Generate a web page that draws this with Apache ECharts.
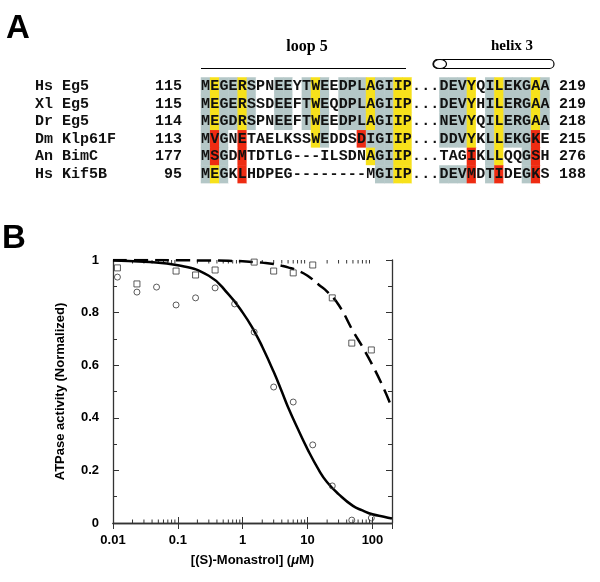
<!DOCTYPE html>
<html>
<head>
  <meta charset="utf-8">
  <title>Eg5 loop 5 alignment and monastrol inhibition</title>
  <script src="https://cdn.jsdelivr.net/npm/echarts@6/dist/echarts.min.js"></script>
  <style>
    html, body { margin: 0; background: #fff; }
    #main { width: 600px; height: 582px; }
  </style>
</head>
<body>
  <div id="main"></div>

  <script>
    // Panel A - sequence alignment
    const names = ['Hs Eg5', 'Xl Eg5', 'Dr Eg5', 'Dm Klp61F', 'An BimC', 'Hs Kif5B'];
    const startNums = ['115', '115', '114', '113', '177', '95'];
    const endNums = ['219', '219', '218', '215', '276', '188'];
    const seqs = [
      'MEGERSPNEEYTWEEDPLAGIIP...DEVYQILEKGAA',
      'MEGERSSDEEFTWEQDPLAGIIP...DEVYHILERGAA',
      'MEGDRSPNEEFTWEEDPLAGIIP...NEVYQILERGAA',
      'MVGNETAELKSSWEDDSDIGIIP...DDVYKLLEKGKE',
      'MSGDMTDTLG---ILSDNAGIIP...TAGIKLLQQGSH',
      'MEGKLHDPEG--------MGIIP...DEVMDTIDEGKS'
    ];
    // shading per residue: 0 none, 1 grey, 2 yellow, 3 red
    const shading = [
      '12112100110121011121122000111201211121',
      '12112100110121011121122000111201211121',
      '12112100110121011121122000111201211121',
      '13103000000021000311122000111201211130',
      '13103000000000000021122000000301200130',
      '12103000000000000001122000111301300130'
    ];

    // Panel B - ATPase activity vs (S)-monastrol
    const concCircles = [0.0117, 0.0234, 0.0469, 0.0938, 0.1875, 0.375, 0.75, 1.5, 3, 6, 12, 24, 48, 96];
    const actCircles = [0.935, 0.878, 0.897, 0.829, 0.856, 0.894, 0.833, 0.726, 0.517, 0.46, 0.297, 0.141, 0.011, 0.019];
    const concSquares = [0.0117, 0.0234, 0.0938, 0.1875, 0.375, 1.5, 3, 6, 12, 24, 48, 96];
    const actSquares = [0.970, 0.909, 0.958, 0.943, 0.962, 0.992, 0.958, 0.951, 0.981, 0.856, 0.684, 0.658];
    const fitConc = [0.01, 0.03, 0.1, 0.3, 0.6, 1, 1.5, 2, 3, 4, 5, 7, 10, 15, 20, 30, 50, 70, 100, 150, 200];
    const fitSolid = [0.998, 0.993, 0.98, 0.94, 0.87, 0.8, 0.73, 0.67, 0.575, 0.5, 0.44, 0.36, 0.28, 0.2, 0.155, 0.11, 0.065, 0.048, 0.033, 0.024, 0.017];
    const fitDashed = [1.0, 1.0, 0.999, 0.998, 0.997, 0.995, 0.992, 0.99, 0.985, 0.978, 0.972, 0.96, 0.94, 0.905, 0.88, 0.83, 0.73, 0.67, 0.6, 0.51, 0.437];
    const xTickLabels = ['0.01', '0.1', '1', '10', '100'];

    const shadeColors = ['#ffffff', '#b4c7c7', '#f7e11b', '#ee2b12'];

    const cells = [];
    seqs.forEach((s, r) => {
      s.split('').forEach((ch, c) => cells.push([c, r, +shading[r][c]]));
    });

    const logMinor = [];
    for (let e = -2; e <= 2; e++) {
      for (let m = 2; m <= 9; m++) {
        const v = m * Math.pow(10, e);
        if (v < 200) logMinor.push([v, 0]);
      }
    }

    const mono = { fontFamily: 'Liberation Mono', fontWeight: 'bold', fontSize: 15, color: '#111' };
    const sans = 'Liberation Sans';

    const chart = echarts.init(document.getElementById('main'));

    const option = {
      animation: false,
      backgroundColor: '#fff',
      grid: [
        { left: 201, top: 77.5, width: 348.5, height: 105.6 },
        { left: 113, top: 260, width: 279, height: 263 }
      ],
      xAxis: [
        { type: 'category', gridIndex: 0, data: seqs[0].split('').map((_, i) => i), show: false },
        {
          type: 'log', gridIndex: 1, logBase: 10, min: 0.01, max: 200, position: 'bottom',
          axisLine: { lineStyle: { color: '#333', width: 1.3 } },
          axisTick: { inside: true, length: 6, lineStyle: { color: '#333' } },
          axisLabel: {
            margin: 11, color: '#000', fontFamily: sans, fontWeight: 'bold', fontSize: 13,
            formatter: v => {
              const s = String(+v.toPrecision(3));
              return xTickLabels.indexOf(s) >= 0 ? s : '';
            }
          },
          splitLine: { show: false },
          name: '[(S)-Monastrol] ({mu|μ}M)',
          nameLocation: 'middle', nameGap: 31,
          nameTextStyle: {
            fontFamily: sans, fontWeight: 'bold', fontSize: 13, color: '#000',
            rich: { mu: { fontFamily: sans, fontWeight: 'bold', fontStyle: 'italic', fontSize: 13, color: '#000' } }
          }
        },
        {
          type: 'log', gridIndex: 1, logBase: 10, min: 0.01, max: 200, position: 'top',
          axisLine: { lineStyle: { color: '#333', width: 1.3 } },
          axisTick: { inside: true, length: 6, lineStyle: { color: '#333' } },
          axisLabel: { show: false },
          splitLine: { show: false }
        }
      ],
      yAxis: [
        {
          type: 'category', gridIndex: 0, data: names, inverse: true,
          axisLine: { show: false }, axisTick: { show: false },
          axisLabel: Object.assign({ align: 'left', margin: 166, interval: 0 }, mono)
        },
        {
          type: 'category', gridIndex: 0, data: startNums, inverse: true, position: 'left',
          axisLine: { show: false }, axisTick: { show: false },
          axisLabel: Object.assign({ align: 'right', margin: 19, interval: 0 }, mono)
        },
        {
          type: 'category', gridIndex: 0, data: endNums, inverse: true, position: 'right',
          axisLine: { show: false }, axisTick: { show: false },
          axisLabel: Object.assign({ align: 'left', margin: 9.5, interval: 0 }, mono)
        },
        {
          type: 'value', gridIndex: 1, min: 0, max: 1, interval: 0.2, position: 'left',
          axisLine: { show: true, lineStyle: { color: '#333', width: 1.3 } },
          axisTick: { show: true, inside: true, length: 6, lineStyle: { color: '#333' } },
          minorTick: { show: true, splitNumber: 2, length: 4, lineStyle: { color: '#333' } },
          axisLabel: { margin: 14, color: '#000', fontFamily: sans, fontWeight: 'bold', fontSize: 13 },
          splitLine: { show: false },
          name: 'ATPase activity (Normalized)',
          nameLocation: 'middle', nameGap: 46,
          nameTextStyle: { fontFamily: sans, fontWeight: 'bold', fontSize: 13, color: '#000' }
        },
        {
          type: 'value', gridIndex: 1, min: 0, max: 1, interval: 0.2, position: 'right',
          axisLine: { show: true, lineStyle: { color: '#333', width: 1.3 } },
          axisTick: { show: true, inside: true, length: 6, lineStyle: { color: '#333' } },
          minorTick: { show: true, splitNumber: 2, length: 4, lineStyle: { color: '#333' } },
          axisLabel: { show: false },
          splitLine: { show: false }
        }
      ],
      visualMap: {
        type: 'piecewise', show: false, dimension: 2, seriesIndex: 0,
        pieces: shadeColors.map((col, i) => ({ value: i, color: col }))
      },
      series: [
        {
          type: 'heatmap', xAxisIndex: 0, yAxisIndex: 0, data: cells,
          emphasis: { disabled: true },
          itemStyle: { borderWidth: 0 },
          label: Object.assign({
            show: true,
            formatter: p => seqs[p.value[1]][p.value[0]]
          }, mono)
        },
        {
          type: 'line', xAxisIndex: 1, yAxisIndex: 3, smooth: true, symbol: 'none',
          data: fitConc.map((c, i) => [c, fitSolid[i]]),
          lineStyle: { color: '#000', width: 2.5 }, z: 2
        },
        {
          type: 'line', xAxisIndex: 1, yAxisIndex: 3, smooth: true, symbol: 'none',
          data: fitConc.map((c, i) => [c, fitDashed[i]]),
          lineStyle: { color: '#000', width: 2.5, type: [14, 7] }, z: 2
        },
        {
          type: 'scatter', xAxisIndex: 1, yAxisIndex: 3, symbol: 'circle', symbolSize: 6,
          data: concCircles.map((c, i) => [c, actCircles[i]]),
          itemStyle: { color: 'rgba(255,255,255,0)', borderColor: '#333', borderWidth: 1 }, z: 3
        },
        {
          type: 'scatter', xAxisIndex: 1, yAxisIndex: 3, symbol: 'rect', symbolSize: 6,
          data: concSquares.map((c, i) => [c, actSquares[i]]),
          itemStyle: { color: 'rgba(255,255,255,0)', borderColor: '#333', borderWidth: 1 }, z: 3
        },
        {
          type: 'custom', xAxisIndex: 1, yAxisIndex: 3, silent: true, data: logMinor,
          renderItem: (params, api) => {
            const b = api.coord([api.value(0), 0]);
            const t = api.coord([api.value(0), 1]);
            const st = { stroke: '#333', lineWidth: 1 };
            return {
              type: 'group', children: [
                { type: 'line', shape: { x1: b[0], y1: b[1], x2: b[0], y2: b[1] - 3.5 }, style: st },
                { type: 'line', shape: { x1: t[0], y1: t[1], x2: t[0], y2: t[1] + 3.5 }, style: st }
              ]
            };
          }
        }
      ],
      graphic: [
        { type: 'text', left: 6, top: 12, style: { text: 'A', font: 'bold 33px "Liberation Sans"', fill: '#000' } },
        { type: 'text', left: 2, top: 222, style: { text: 'B', font: 'bold 33px "Liberation Sans"', fill: '#000' } },
        { type: 'text', x: 307, y: 47, style: { text: 'loop 5', font: 'bold 16px "Liberation Serif"', fill: '#000', align: 'center', verticalAlign: 'middle' } },
        { type: 'line', shape: { x1: 201, y1: 68.5, x2: 406, y2: 68.5 }, style: { stroke: '#000', lineWidth: 1 } },
        { type: 'text', x: 512, y: 46, style: { text: 'helix 3', font: 'bold 15px "Liberation Serif"', fill: '#000', align: 'center', verticalAlign: 'middle' } },
        { type: 'rect', shape: { x: 433, y: 59.5, width: 121, height: 9, r: 4.5 }, style: { fill: '#fff', stroke: '#000', lineWidth: 1.2 } },
        { type: 'ellipse', shape: { cx: 440, cy: 64, rx: 6.5, ry: 4.5 }, style: { fill: '#fff', stroke: '#000', lineWidth: 1.2 } }
      ]
    };

    chart.setOption(option);
  </script>
</body>
</html>
